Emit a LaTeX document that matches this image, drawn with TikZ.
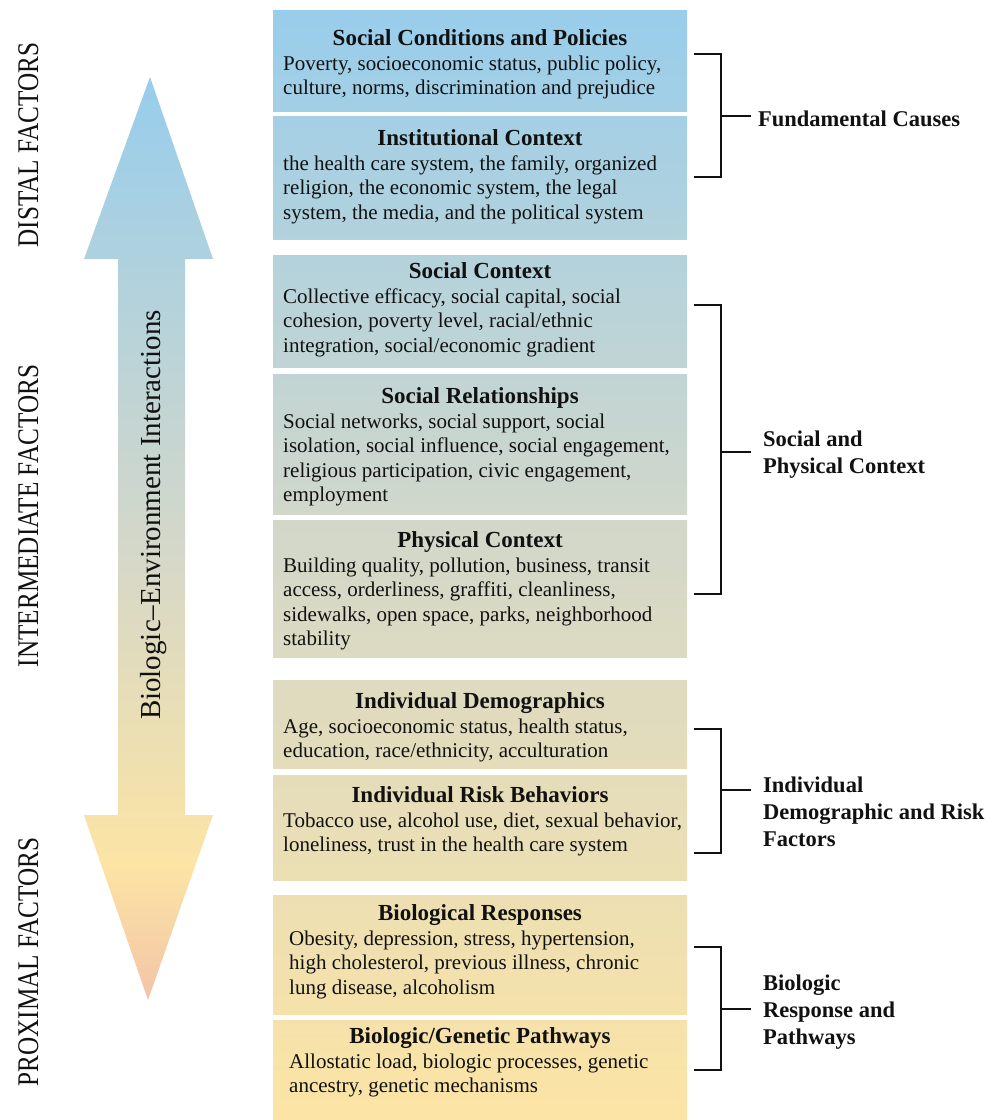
\documentclass[tikz,border=0pt]{standalone}
\usepackage{fontspec}
\setmainfont{Liberation Serif}
\newfontfamily\sidefont{Liberation Serif}[FakeStretch=0.84]
\usetikzlibrary{shadings}
\definecolor{blu}{RGB}{151,205,236}
\definecolor{gry}{RGB}{214,216,200}
\definecolor{yel}{RGB}{252,228,164}
\definecolor{peach}{RGB}{242,196,168}
\definecolor{ink}{RGB}{17,17,17}
\pgfdeclareverticalshading{arrowshade}{100bp}{color(0bp)=(peach); color(25bp)=(peach); color(32.3bp)=(yel); color(48.8bp)=(gry); color(75bp)=(blu); color(100bp)=(blu)}
\tikzset{
  boxtitle/.style={font=\fontsize{23}{27}\selectfont\bfseries, text=ink, inner sep=0pt, anchor=base},
  boxbody/.style={font=\fontsize{21}{24.6}\selectfont, text=ink, inner sep=0pt, anchor=base west, align=left},
  bracket/.style={line width=2.8pt, draw=ink, line join=miter},
  grouplabel/.style={font=\fontsize{22.5}{27.3}\selectfont\bfseries, text=ink, inner sep=0pt, anchor=base west, align=left},
  sidelabel/.style={font=\fontsize{30}{30}\sidefont, text=ink, rotate=90, inner sep=0pt, anchor=base},
}
% colour of the page-wide gradient at height #2
\newcommand\colat[2]{%
  \ifdim #2pt<560pt
    \pgfmathsetmacro\pp{#2/5.6}\colorlet{#1}{gry!\pp!blu}%
  \else
    \pgfmathsetmacro\pp{(#2-560)/5.6}\colorlet{#1}{yel!\pp!gry}%
  \fi}
% name, ytop, ybot, title baseline, body x, number of body lines, title, body
\newcommand\factorbox[8]{%
  \colat{ctop}{#2}\colat{cbot}{#3}%
  \shade[top color=ctop, bottom color=cbot] (273,#2) rectangle (687,#3);
  \node[boxtitle] (#1t) at (480,#4) {#7};
  \node[boxbody] (#1b) at (#5,{#4+25+(#6-1)*24.6}) {#8};
}
\begin{document}
\begin{tikzpicture}[x=1pt,y=-1pt]
\useasboundingbox (0,0) rectangle (992,1120);
\fill[white] (0,0) rectangle (992,1120);

% big double arrow
\shade[shading=arrowshade] (150,77) -- (213,259) -- (185,259) -- (185,815) -- (213,815)
  -- (148,1000) -- (84,815) -- (118,815) -- (118,259) -- (84,259) -- cycle;
\node[font=\fontsize{29}{29}\selectfont, text=ink, rotate=90, inner sep=0pt, anchor=base] (bio) at (160,515) {Biologic--Environment Interactions};

% side labels
\node[sidelabel] (distal) at (38,145) {DISTAL FACTORS};
\node[sidelabel] (inter) at (38,516) {INTERMEDIATE FACTORS};
\node[sidelabel] (prox) at (38,962) {PROXIMAL FACTORS};

% boxes
\factorbox{s1}{10}{111}{45}{283}{2}{Social Conditions and Policies}{Poverty, socioeconomic status, public policy,\\culture, norms, discrimination and prejudice}
\factorbox{s2}{116}{239}{145}{283}{3}{Institutional Context}{the health care system, the family, organized\\religion, the economic system, the legal\\system, the media, and the political system}
\factorbox{s3}{255}{367}{278}{283}{3}{Social Context}{Collective efficacy, social capital, social\\cohesion, poverty level, racial/ethnic\\integration, social/economic gradient}
\factorbox{s4}{374}{514}{403}{283}{4}{Social Relationships}{Social networks, social support, social\\isolation, social influence, social engagement,\\religious participation, civic engagement,\\employment}
\factorbox{s5}{520}{657}{547}{283}{4}{Physical Context}{Building quality, pollution, business, transit\\access, orderliness, graffiti, cleanliness,\\sidewalks, open space, parks, neighborhood\\stability}
\factorbox{s6}{680}{768}{708}{283}{2}{Individual Demographics}{Age, socioeconomic status, health status,\\education, race/ethnicity, acculturation}
\factorbox{s7}{775}{880}{802}{283}{2}{Individual Risk Behaviors}{Tobacco use, alcohol use, diet, sexual behavior,\\loneliness, trust in the health care system}
\factorbox{s8}{895}{1014}{920}{289}{3}{Biological Responses}{Obesity, depression, stress, hypertension,\\high cholesterol, previous illness, chronic\\lung disease, alcoholism}
\factorbox{s9}{1020}{1120}{1043}{289}{2}{Biologic/Genetic Pathways}{Allostatic load, biologic processes, genetic\\ancestry, genetic mechanisms}

% brackets
\coordinate (k1a) at (694,54);  \coordinate (k1b) at (694,177); \coordinate (k1m) at (721,116); \coordinate (k1e) at (751,116);
\coordinate (k2a) at (694,305); \coordinate (k2b) at (694,594); \coordinate (k2m) at (721,452); \coordinate (k2e) at (751,452);
\coordinate (k3a) at (694,729); \coordinate (k3b) at (694,853); \coordinate (k3m) at (721,790); \coordinate (k3e) at (751,790);
\coordinate (k4a) at (694,947); \coordinate (k4b) at (694,1070); \coordinate (k4m) at (721,1009); \coordinate (k4e) at (751,1009);
\foreach \k in {1,2,3,4}{
  \draw[bracket] (k\k a) -- (k\k m |- k\k a) -- (k\k m |- k\k b) -- (k\k b);
  \draw[bracket] (k\k m) -- (k\k e);
}
\node[grouplabel] (g1) at (758,126) {Fundamental Causes};
\node[grouplabel] (g2) at (763,446+27.3) {Social and\\Physical Context};
\node[grouplabel] (g3) at (763,792+2*27.3) {Individual\\Demographic and Risk\\Factors};
\node[grouplabel] (g4) at (763,990+2*27.3) {Biologic\\Response and\\Pathways};
\end{tikzpicture}
\end{document}
